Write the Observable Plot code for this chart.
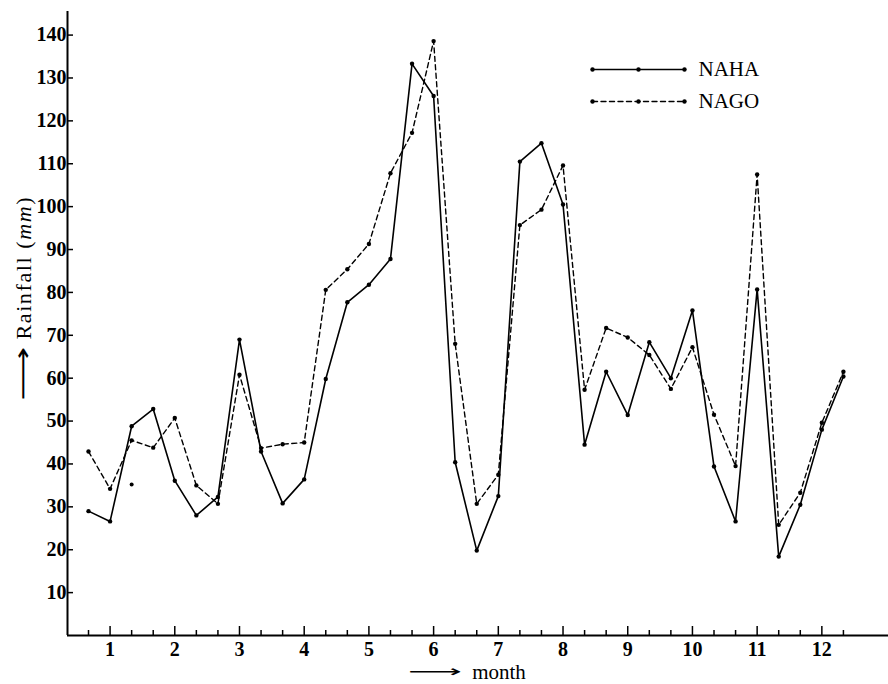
<!DOCTYPE html>
<html><head><meta charset="utf-8">
<script src="https://cdn.jsdelivr.net/npm/d3@7"></script>
<script src="https://cdn.jsdelivr.net/npm/@observablehq/plot@0.6"></script>
<style>
html,body{margin:0;padding:0;background:#fff;}
#chart{position:relative;width:888px;height:684px;overflow:hidden;}
#legend{position:absolute;left:585px;top:52px;}
</style></head><body><div id="chart"></div>
<script>
// ---- data ----
const months = [1, 2, 3, 4, 5, 6, 7, 8, 9, 10, 11, 12];
const dekadOffsets = [-1/3, 0, 1/3];
const seriesNames = ["NAHA", "NAGO"];
const naha = [29.0, 26.6, 48.8, 52.8, 36.1, 28.0, 32.3, 69.0, 42.9, 30.8, 36.4, 59.8,
              77.7, 81.8, 87.8, 133.3, 125.8, 40.4, 19.8, 32.5, 110.5, 114.8, 100.5, 44.5,
              61.5, 51.4, 68.4, 60.0, 75.8, 39.4, 26.6, 80.7, 18.4, 30.5, 48.0, 60.4];
const nago = [42.9, 34.2, 45.5, 43.8, 50.7, 35.0, 30.7, 60.8, 43.7, 44.6, 45.0, 80.6,
              85.4, 91.3, 107.8, 117.2, 138.6, 68.0, 30.7, 37.5, 95.7, 99.3, 109.6, 57.3,
              71.7, 69.5, 65.4, 57.5, 67.2, 51.5, 39.5, 107.5, 25.8, 33.3, 49.6, 61.5];
const strayNagoMonth = [1 + 1/3];
const strayNagoValue = [35.2];
const yTicks = [10, 20, 30, 40, 50, 60, 70, 80, 90, 100, 110, 120, 130, 140];
const xDomain = [0.342, 13.03];
const yDomain = [0, 145.5];

// ---- build ----
const W = 888, H = 684, mL = 67, mR = 0, mT = 11, mB = 49;
const positions = months.flatMap(m => dekadOffsets.map(o => m + o));
const rows = positions.map((x, i) => ({x, naha: naha[i], nago: nago[i]}));
const minor = months.flatMap(m => [m - 1/3, m + 1/3]);
const stray = strayNagoMonth.map((x, i) => ({x, v: strayNagoValue[i]}));
const frameW = W - mL - mR, frameH = H - mT - mB;
const font = "'Liberation Serif', 'DejaVu Serif', serif";

const chart = Plot.plot({
  width: W, height: H,
  marginLeft: mL, marginRight: mR, marginTop: mT, marginBottom: mB,
  style: {fontFamily: font, background: "#fff", color: "#000"},
  x: {type: "linear", domain: xDomain},
  y: {type: "linear", domain: yDomain},
  marks: [
    Plot.axisY({ticks: yTicks, tickSize: 0, tickPadding: 1, label: null, fontSize: 20, fontWeight: "bold", tickFormat: d => String(d)}),
    Plot.axisX({ticks: months, tickSize: 0, tickPadding: 6, label: null, fontSize: 20, fontWeight: "bold", tickFormat: d => String(d)}),
    Plot.ruleY([yDomain[0]], {stroke: "#000", strokeWidth: 2}),
    Plot.ruleX([xDomain[0]], {stroke: "#000", strokeWidth: 2}),
    Plot.ruleY(yTicks, {y: d => d, stroke: "#000", strokeWidth: 1.5, insetRight: frameW - 6}),
    Plot.ruleX(months, {x: d => d, stroke: "#000", strokeWidth: 1.5, insetTop: frameH - 9}),
    Plot.ruleX(minor, {x: d => d, stroke: "#000", strokeWidth: 1.5, insetTop: frameH - 5}),
    Plot.line(rows, {x: "x", y: "naha", stroke: "#000", strokeWidth: 1.6}),
    Plot.line(rows, {x: "x", y: "nago", stroke: "#000", strokeWidth: 1.4, strokeDasharray: "5,3.5"}),
    Plot.dot(rows, {x: "x", y: "naha", r: 2.2, fill: "#000"}),
    Plot.dot(rows, {x: "x", y: "nago", r: 2.2, fill: "#000"}),
    Plot.dot(stray, {x: "x", y: "v", r: 2, fill: "#000"}),
    Plot.text(["Rainfall (mm)"], {frameAnchor: "left", textAnchor: "middle", dx: -44, dy: -55, rotate: -90, fontSize: 22, className: "ylab"}),
    Plot.text(["\u27F6"], {frameAnchor: "left", textAnchor: "middle", dx: -44, dy: 50, rotate: -90, fontSize: 24, fontFamily: "DejaVu Sans", className: "yarrow"}),
    Plot.text(["month"], {frameAnchor: "bottom", textAnchor: "middle", dx: 21, dy: 43, fontSize: 21}),
    Plot.text(["\u27F6"], {frameAnchor: "bottom", textAnchor: "middle", dx: -43, dy: 41, fontSize: 16, fontFamily: "DejaVu Sans", className: "xarrow"})
  ]
});

// italic "mm" and stretched label / arrows
d3.select(chart).selectAll("g.ylab text").each(function() {
  const t = d3.select(this);
  t.text(null);
  t.attr("textLength", 142).attr("lengthAdjust", "spacing");
  t.append("tspan").text("Rainfall (");
  t.append("tspan").attr("font-style", "italic").text("mm");
  t.append("tspan").text(")");
});
d3.select(chart).selectAll("g.yarrow text, g.xarrow text")
  .attr("textLength", 54).attr("lengthAdjust", "spacingAndGlyphs");

const container = document.getElementById("chart");
container.appendChild(chart);

// ---- legend ----
const legendRows = seriesNames.flatMap(s => [0, 1, 2].map(k => ({s, k})));
const legend = Plot.plot({
  width: 200, height: 70,
  margin: 0,
  style: {fontFamily: font, background: "transparent", color: "#000"},
  x: {type: "linear", domain: [0, 2], range: [7, 99], axis: null},
  y: {type: "point", domain: seriesNames, range: [17, 49], padding: 0, axis: null},
  marks: [
    Plot.line(legendRows.filter(d => d.s === "NAHA"), {x: "k", y: "s", stroke: "#000", strokeWidth: 1.6}),
    Plot.line(legendRows.filter(d => d.s === "NAGO"), {x: "k", y: "s", stroke: "#000", strokeWidth: 1.4, strokeDasharray: "5,3.5"}),
    Plot.dot(legendRows, {x: "k", y: "s", r: 2.2, fill: "#000"}),
    Plot.text(seriesNames, {x: 2, y: d => d, text: d => d, dx: 14, textAnchor: "start", fontSize: 21})
  ]
});
const lg = document.createElement("div");
lg.id = "legend";
lg.appendChild(legend);
container.appendChild(lg);
</script>
</body></html>
